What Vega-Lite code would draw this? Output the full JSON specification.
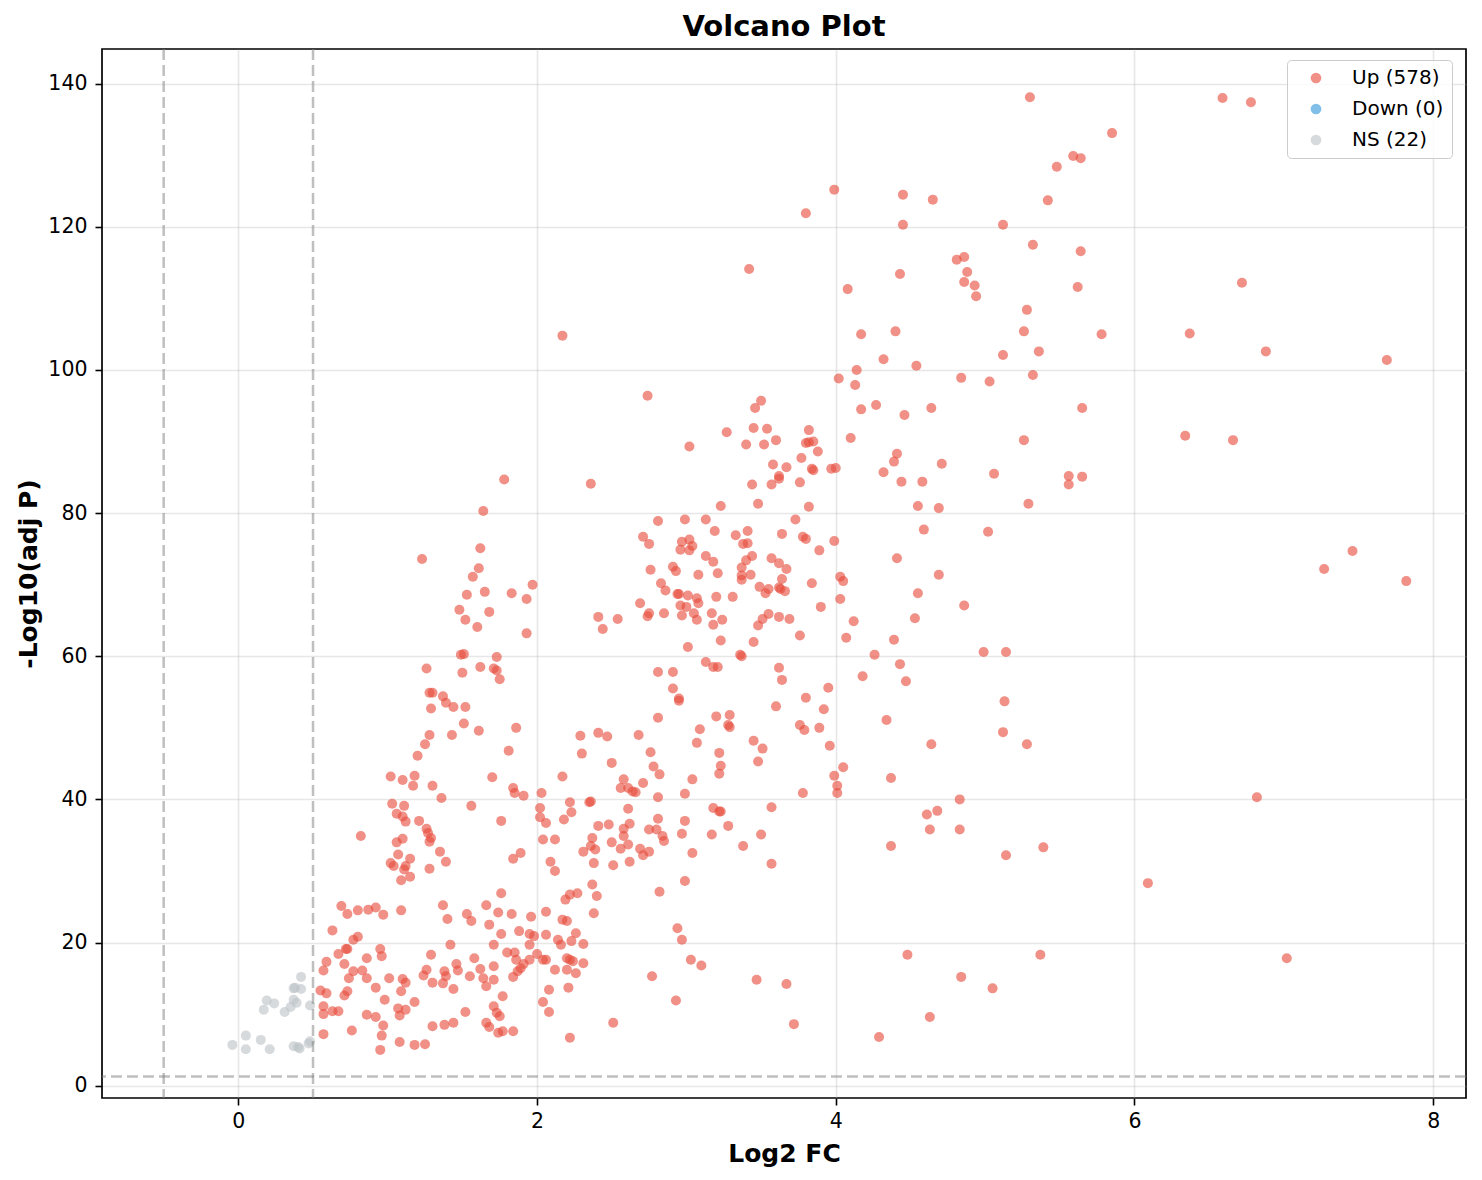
{
  "$schema": "https://vega.github.io/schema/vega-lite/v6.json",
  "width": 1364,
  "height": 1049,
  "autosize": {"type": "none"},
  "padding": {"left": 102, "top": 49, "right": 16, "bottom": 82},
  "background": "white",
  "view": {"stroke": "black", "strokeWidth": 1.7},
  "title": {
    "text": "Volcano Plot",
    "font": "DejaVu Sans",
    "fontSize": 29,
    "fontWeight": "bold",
    "color": "black",
    "anchor": "middle",
    "offset": 6
  },
  "config": {
    "font": "DejaVu Sans",
    "axis": {
      "labelFont": "DejaVu Sans",
      "labelFontSize": 20.5,
      "labelColor": "black",
      "tickColor": "black",
      "tickSize": 7,
      "tickWidth": 1.6,
      "domain": false,
      "grid": true,
      "gridColor": "#b0b0b0",
      "gridOpacity": 0.3,
      "gridWidth": 1.6,
      "titleFont": "DejaVu Sans",
      "titleFontSize": 25,
      "titleFontWeight": "bold",
      "titleColor": "black"
    }
  },
  "datasets": {
    "genes": [
      {"fc": -0.04, "p": 5.7, "g": "NS (22)"}, {"fc": 0.05, "p": 7.0, "g": "NS (22)"}, {"fc": 0.05, "p": 5.1, "g": "NS (22)"},
      {"fc": 0.15, "p": 6.4, "g": "NS (22)"}, {"fc": 0.21, "p": 5.1, "g": "NS (22)"}, {"fc": 0.37, "p": 5.5, "g": "NS (22)"},
      {"fc": 0.41, "p": 5.2, "g": "NS (22)"}, {"fc": 0.40, "p": 5.4, "g": "NS (22)"}, {"fc": 0.48, "p": 6.2, "g": "NS (22)"},
      {"fc": 0.47, "p": 5.9, "g": "NS (22)"}, {"fc": 0.17, "p": 10.6, "g": "NS (22)"}, {"fc": 0.19, "p": 11.9, "g": "NS (22)"},
      {"fc": 0.24, "p": 11.5, "g": "NS (22)"}, {"fc": 0.31, "p": 10.3, "g": "NS (22)"}, {"fc": 0.35, "p": 11.0, "g": "NS (22)"},
      {"fc": 0.37, "p": 12.0, "g": "NS (22)"}, {"fc": 0.39, "p": 11.6, "g": "NS (22)"}, {"fc": 0.48, "p": 11.2, "g": "NS (22)"},
      {"fc": 0.37, "p": 13.6, "g": "NS (22)"}, {"fc": 0.38, "p": 13.7, "g": "NS (22)"}, {"fc": 0.42, "p": 13.5, "g": "NS (22)"},
      {"fc": 0.42, "p": 15.2, "g": "NS (22)"},
      {"fc": 1.02, "p": 43.2, "g": "Up (578)"}, {"fc": 1.10, "p": 42.7, "g": "Up (578)"}, {"fc": 1.18, "p": 43.3, "g": "Up (578)"},
      {"fc": 1.17, "p": 41.9, "g": "Up (578)"}, {"fc": 1.30, "p": 41.9, "g": "Up (578)"}, {"fc": 1.36, "p": 40.2, "g": "Up (578)"},
      {"fc": 1.70, "p": 43.1, "g": "Up (578)"}, {"fc": 1.84, "p": 41.6, "g": "Up (578)"}, {"fc": 1.85, "p": 40.9, "g": "Up (578)"},
      {"fc": 1.91, "p": 40.5, "g": "Up (578)"}, {"fc": 2.03, "p": 40.9, "g": "Up (578)"}, {"fc": 2.17, "p": 43.2, "g": "Up (578)"},
      {"fc": 2.22, "p": 39.6, "g": "Up (578)"}, {"fc": 2.35, "p": 39.6, "g": "Up (578)"}, {"fc": 2.36, "p": 39.7, "g": "Up (578)"},
      {"fc": 1.03, "p": 39.4, "g": "Up (578)"}, {"fc": 1.11, "p": 39.1, "g": "Up (578)"}, {"fc": 1.06, "p": 38.0, "g": "Up (578)"},
      {"fc": 1.10, "p": 37.6, "g": "Up (578)"}, {"fc": 1.12, "p": 36.9, "g": "Up (578)"}, {"fc": 1.21, "p": 37.0, "g": "Up (578)"},
      {"fc": 1.56, "p": 39.1, "g": "Up (578)"}, {"fc": 1.76, "p": 37.0, "g": "Up (578)"}, {"fc": 2.02, "p": 38.8, "g": "Up (578)"},
      {"fc": 2.02, "p": 37.5, "g": "Up (578)"}, {"fc": 2.06, "p": 36.7, "g": "Up (578)"}, {"fc": 2.18, "p": 37.2, "g": "Up (578)"},
      {"fc": 2.23, "p": 38.2, "g": "Up (578)"}, {"fc": 2.41, "p": 36.3, "g": "Up (578)"}, {"fc": 0.82, "p": 34.9, "g": "Up (578)"},
      {"fc": 1.26, "p": 35.9, "g": "Up (578)"}, {"fc": 1.27, "p": 35.3, "g": "Up (578)"}, {"fc": 1.29, "p": 34.6, "g": "Up (578)"},
      {"fc": 1.28, "p": 34.1, "g": "Up (578)"}, {"fc": 1.10, "p": 34.5, "g": "Up (578)"}, {"fc": 1.06, "p": 34.0, "g": "Up (578)"},
      {"fc": 1.07, "p": 32.3, "g": "Up (578)"}, {"fc": 1.02, "p": 31.1, "g": "Up (578)"}, {"fc": 1.04, "p": 30.7, "g": "Up (578)"},
      {"fc": 1.12, "p": 30.7, "g": "Up (578)"}, {"fc": 1.15, "p": 31.7, "g": "Up (578)"}, {"fc": 1.11, "p": 30.2, "g": "Up (578)"},
      {"fc": 1.09, "p": 28.7, "g": "Up (578)"}, {"fc": 1.15, "p": 29.2, "g": "Up (578)"}, {"fc": 1.28, "p": 30.3, "g": "Up (578)"},
      {"fc": 1.35, "p": 32.7, "g": "Up (578)"}, {"fc": 1.39, "p": 31.3, "g": "Up (578)"}, {"fc": 1.84, "p": 31.7, "g": "Up (578)"},
      {"fc": 1.89, "p": 32.5, "g": "Up (578)"}, {"fc": 2.04, "p": 34.4, "g": "Up (578)"}, {"fc": 2.12, "p": 34.4, "g": "Up (578)"},
      {"fc": 2.09, "p": 31.3, "g": "Up (578)"}, {"fc": 2.12, "p": 30.0, "g": "Up (578)"}, {"fc": 2.31, "p": 32.7, "g": "Up (578)"},
      {"fc": 2.37, "p": 34.6, "g": "Up (578)"}, {"fc": 2.36, "p": 33.5, "g": "Up (578)"}, {"fc": 2.39, "p": 33.0, "g": "Up (578)"},
      {"fc": 2.38, "p": 31.1, "g": "Up (578)"}, {"fc": 2.37, "p": 28.1, "g": "Up (578)"}, {"fc": 2.40, "p": 26.5, "g": "Up (578)"},
      {"fc": 2.19, "p": 26.0, "g": "Up (578)"}, {"fc": 2.22, "p": 26.7, "g": "Up (578)"}, {"fc": 2.27, "p": 26.9, "g": "Up (578)"},
      {"fc": 2.38, "p": 24.1, "g": "Up (578)"}, {"fc": 1.76, "p": 26.9, "g": "Up (578)"}, {"fc": 0.69, "p": 25.1, "g": "Up (578)"},
      {"fc": 0.73, "p": 24.0, "g": "Up (578)"}, {"fc": 0.80, "p": 24.5, "g": "Up (578)"}, {"fc": 0.87, "p": 24.6, "g": "Up (578)"},
      {"fc": 0.92, "p": 24.9, "g": "Up (578)"}, {"fc": 0.97, "p": 23.9, "g": "Up (578)"}, {"fc": 1.09, "p": 24.5, "g": "Up (578)"},
      {"fc": 1.37, "p": 25.2, "g": "Up (578)"}, {"fc": 1.40, "p": 23.3, "g": "Up (578)"}, {"fc": 1.53, "p": 24.0, "g": "Up (578)"},
      {"fc": 1.56, "p": 23.0, "g": "Up (578)"}, {"fc": 1.66, "p": 25.2, "g": "Up (578)"}, {"fc": 1.74, "p": 24.2, "g": "Up (578)"},
      {"fc": 1.83, "p": 24.0, "g": "Up (578)"}, {"fc": 1.96, "p": 23.6, "g": "Up (578)"}, {"fc": 2.06, "p": 24.3, "g": "Up (578)"},
      {"fc": 2.17, "p": 23.2, "g": "Up (578)"}, {"fc": 2.20, "p": 23.0, "g": "Up (578)"}, {"fc": 1.68, "p": 22.5, "g": "Up (578)"},
      {"fc": 0.63, "p": 21.7, "g": "Up (578)"}, {"fc": 0.77, "p": 20.4, "g": "Up (578)"}, {"fc": 0.80, "p": 20.8, "g": "Up (578)"},
      {"fc": 0.72, "p": 19.1, "g": "Up (578)"}, {"fc": 0.73, "p": 19.1, "g": "Up (578)"}, {"fc": 0.67, "p": 18.4, "g": "Up (578)"},
      {"fc": 0.95, "p": 19.1, "g": "Up (578)"}, {"fc": 0.96, "p": 18.1, "g": "Up (578)"}, {"fc": 1.29, "p": 18.3, "g": "Up (578)"},
      {"fc": 1.42, "p": 19.7, "g": "Up (578)"}, {"fc": 1.76, "p": 21.2, "g": "Up (578)"}, {"fc": 1.71, "p": 19.7, "g": "Up (578)"},
      {"fc": 1.88, "p": 21.6, "g": "Up (578)"}, {"fc": 1.95, "p": 21.2, "g": "Up (578)"}, {"fc": 1.98, "p": 20.9, "g": "Up (578)"},
      {"fc": 2.06, "p": 21.1, "g": "Up (578)"}, {"fc": 2.14, "p": 20.4, "g": "Up (578)"}, {"fc": 2.16, "p": 19.7, "g": "Up (578)"},
      {"fc": 2.23, "p": 20.2, "g": "Up (578)"}, {"fc": 2.31, "p": 19.8, "g": "Up (578)"}, {"fc": 2.26, "p": 21.3, "g": "Up (578)"},
      {"fc": 1.95, "p": 19.7, "g": "Up (578)"}, {"fc": 0.59, "p": 17.3, "g": "Up (578)"}, {"fc": 0.57, "p": 16.1, "g": "Up (578)"},
      {"fc": 0.71, "p": 17.0, "g": "Up (578)"}, {"fc": 0.77, "p": 16.0, "g": "Up (578)"}, {"fc": 0.83, "p": 16.1, "g": "Up (578)"},
      {"fc": 0.86, "p": 17.8, "g": "Up (578)"}, {"fc": 0.74, "p": 15.0, "g": "Up (578)"}, {"fc": 0.86, "p": 15.0, "g": "Up (578)"},
      {"fc": 1.01, "p": 15.0, "g": "Up (578)"}, {"fc": 1.10, "p": 14.9, "g": "Up (578)"}, {"fc": 1.12, "p": 14.4, "g": "Up (578)"},
      {"fc": 1.24, "p": 15.4, "g": "Up (578)"}, {"fc": 1.26, "p": 16.2, "g": "Up (578)"}, {"fc": 1.30, "p": 14.4, "g": "Up (578)"},
      {"fc": 1.37, "p": 14.3, "g": "Up (578)"}, {"fc": 1.38, "p": 16.0, "g": "Up (578)"}, {"fc": 1.39, "p": 15.3, "g": "Up (578)"},
      {"fc": 1.46, "p": 17.0, "g": "Up (578)"}, {"fc": 1.47, "p": 16.1, "g": "Up (578)"}, {"fc": 1.44, "p": 13.5, "g": "Up (578)"},
      {"fc": 1.55, "p": 15.3, "g": "Up (578)"}, {"fc": 1.58, "p": 17.8, "g": "Up (578)"}, {"fc": 1.62, "p": 16.3, "g": "Up (578)"},
      {"fc": 1.64, "p": 15.0, "g": "Up (578)"}, {"fc": 1.66, "p": 13.9, "g": "Up (578)"}, {"fc": 1.71, "p": 16.7, "g": "Up (578)"},
      {"fc": 1.71, "p": 14.8, "g": "Up (578)"}, {"fc": 1.80, "p": 18.6, "g": "Up (578)"}, {"fc": 1.85, "p": 18.6, "g": "Up (578)"},
      {"fc": 1.86, "p": 17.6, "g": "Up (578)"}, {"fc": 1.87, "p": 16.0, "g": "Up (578)"}, {"fc": 1.89, "p": 16.4, "g": "Up (578)"},
      {"fc": 1.84, "p": 15.2, "g": "Up (578)"}, {"fc": 1.91, "p": 17.0, "g": "Up (578)"}, {"fc": 1.95, "p": 17.6, "g": "Up (578)"},
      {"fc": 2.00, "p": 18.4, "g": "Up (578)"}, {"fc": 2.04, "p": 17.6, "g": "Up (578)"}, {"fc": 2.06, "p": 17.6, "g": "Up (578)"},
      {"fc": 2.12, "p": 16.2, "g": "Up (578)"}, {"fc": 2.20, "p": 17.8, "g": "Up (578)"}, {"fc": 2.22, "p": 17.6, "g": "Up (578)"},
      {"fc": 2.24, "p": 17.4, "g": "Up (578)"}, {"fc": 2.20, "p": 16.2, "g": "Up (578)"}, {"fc": 2.26, "p": 15.7, "g": "Up (578)"},
      {"fc": 2.31, "p": 17.1, "g": "Up (578)"}, {"fc": 2.21, "p": 13.7, "g": "Up (578)"}, {"fc": 2.08, "p": 13.4, "g": "Up (578)"},
      {"fc": 0.55, "p": 13.3, "g": "Up (578)"}, {"fc": 0.59, "p": 12.9, "g": "Up (578)"}, {"fc": 0.71, "p": 12.6, "g": "Up (578)"},
      {"fc": 0.73, "p": 13.2, "g": "Up (578)"}, {"fc": 0.92, "p": 13.7, "g": "Up (578)"}, {"fc": 0.98, "p": 12.0, "g": "Up (578)"},
      {"fc": 1.09, "p": 13.2, "g": "Up (578)"}, {"fc": 1.18, "p": 11.7, "g": "Up (578)"}, {"fc": 0.57, "p": 11.1, "g": "Up (578)"},
      {"fc": 0.57, "p": 10.0, "g": "Up (578)"}, {"fc": 0.63, "p": 10.4, "g": "Up (578)"}, {"fc": 0.67, "p": 10.4, "g": "Up (578)"},
      {"fc": 0.86, "p": 9.9, "g": "Up (578)"}, {"fc": 0.92, "p": 9.6, "g": "Up (578)"}, {"fc": 1.07, "p": 10.8, "g": "Up (578)"},
      {"fc": 1.08, "p": 9.8, "g": "Up (578)"}, {"fc": 1.12, "p": 10.6, "g": "Up (578)"}, {"fc": 1.52, "p": 10.3, "g": "Up (578)"},
      {"fc": 1.71, "p": 11.1, "g": "Up (578)"}, {"fc": 1.73, "p": 10.2, "g": "Up (578)"}, {"fc": 1.75, "p": 9.7, "g": "Up (578)"},
      {"fc": 1.77, "p": 12.5, "g": "Up (578)"}, {"fc": 2.04, "p": 11.7, "g": "Up (578)"}, {"fc": 2.08, "p": 10.3, "g": "Up (578)"},
      {"fc": 0.57, "p": 7.2, "g": "Up (578)"}, {"fc": 0.76, "p": 7.7, "g": "Up (578)"}, {"fc": 0.97, "p": 8.4, "g": "Up (578)"},
      {"fc": 0.96, "p": 7.0, "g": "Up (578)"}, {"fc": 0.95, "p": 5.0, "g": "Up (578)"}, {"fc": 1.08, "p": 6.1, "g": "Up (578)"},
      {"fc": 1.18, "p": 5.7, "g": "Up (578)"}, {"fc": 1.25, "p": 5.8, "g": "Up (578)"}, {"fc": 1.30, "p": 8.3, "g": "Up (578)"},
      {"fc": 1.38, "p": 8.5, "g": "Up (578)"}, {"fc": 1.44, "p": 8.8, "g": "Up (578)"}, {"fc": 1.66, "p": 8.8, "g": "Up (578)"},
      {"fc": 1.68, "p": 8.2, "g": "Up (578)"}, {"fc": 1.74, "p": 7.4, "g": "Up (578)"}, {"fc": 1.77, "p": 7.6, "g": "Up (578)"},
      {"fc": 1.84, "p": 7.6, "g": "Up (578)"}, {"fc": 2.22, "p": 6.7, "g": "Up (578)"},
      {"fc": 2.50, "p": 45.1, "g": "Up (578)"}, {"fc": 2.78, "p": 44.6, "g": "Up (578)"}, {"fc": 2.82, "p": 43.5, "g": "Up (578)"},
      {"fc": 3.23, "p": 44.7, "g": "Up (578)"}, {"fc": 3.22, "p": 43.6, "g": "Up (578)"}, {"fc": 3.48, "p": 45.3, "g": "Up (578)"},
      {"fc": 3.99, "p": 43.3, "g": "Up (578)"}, {"fc": 4.05, "p": 44.5, "g": "Up (578)"}, {"fc": 4.01, "p": 41.9, "g": "Up (578)"},
      {"fc": 4.01, "p": 40.9, "g": "Up (578)"}, {"fc": 4.37, "p": 43.0, "g": "Up (578)"}, {"fc": 2.58, "p": 42.8, "g": "Up (578)"},
      {"fc": 2.56, "p": 41.6, "g": "Up (578)"}, {"fc": 2.61, "p": 41.6, "g": "Up (578)"}, {"fc": 2.64, "p": 41.1, "g": "Up (578)"},
      {"fc": 2.66, "p": 41.0, "g": "Up (578)"}, {"fc": 2.71, "p": 42.3, "g": "Up (578)"}, {"fc": 3.04, "p": 42.8, "g": "Up (578)"},
      {"fc": 2.81, "p": 40.3, "g": "Up (578)"}, {"fc": 2.99, "p": 40.8, "g": "Up (578)"}, {"fc": 3.78, "p": 40.9, "g": "Up (578)"},
      {"fc": 2.61, "p": 38.7, "g": "Up (578)"}, {"fc": 3.18, "p": 38.8, "g": "Up (578)"}, {"fc": 3.22, "p": 38.3, "g": "Up (578)"},
      {"fc": 3.23, "p": 38.3, "g": "Up (578)"}, {"fc": 3.57, "p": 38.9, "g": "Up (578)"}, {"fc": 4.83, "p": 40.0, "g": "Up (578)"},
      {"fc": 4.61, "p": 37.9, "g": "Up (578)"}, {"fc": 4.68, "p": 38.4, "g": "Up (578)"}, {"fc": 2.48, "p": 36.5, "g": "Up (578)"},
      {"fc": 2.62, "p": 36.6, "g": "Up (578)"}, {"fc": 2.58, "p": 35.9, "g": "Up (578)"}, {"fc": 2.58, "p": 34.9, "g": "Up (578)"},
      {"fc": 2.81, "p": 37.3, "g": "Up (578)"}, {"fc": 2.75, "p": 35.8, "g": "Up (578)"}, {"fc": 2.80, "p": 35.8, "g": "Up (578)"},
      {"fc": 2.84, "p": 34.9, "g": "Up (578)"}, {"fc": 2.85, "p": 34.2, "g": "Up (578)"}, {"fc": 2.99, "p": 37.0, "g": "Up (578)"},
      {"fc": 2.97, "p": 35.2, "g": "Up (578)"}, {"fc": 3.28, "p": 36.3, "g": "Up (578)"}, {"fc": 3.17, "p": 35.1, "g": "Up (578)"},
      {"fc": 3.50, "p": 35.1, "g": "Up (578)"}, {"fc": 4.63, "p": 35.8, "g": "Up (578)"}, {"fc": 4.83, "p": 35.8, "g": "Up (578)"},
      {"fc": 2.50, "p": 34.0, "g": "Up (578)"}, {"fc": 2.61, "p": 33.7, "g": "Up (578)"}, {"fc": 2.56, "p": 33.1, "g": "Up (578)"},
      {"fc": 2.69, "p": 33.1, "g": "Up (578)"}, {"fc": 2.71, "p": 32.2, "g": "Up (578)"}, {"fc": 2.75, "p": 32.7, "g": "Up (578)"},
      {"fc": 3.04, "p": 32.5, "g": "Up (578)"}, {"fc": 3.38, "p": 33.5, "g": "Up (578)"}, {"fc": 4.37, "p": 33.5, "g": "Up (578)"},
      {"fc": 2.51, "p": 30.8, "g": "Up (578)"}, {"fc": 2.62, "p": 31.3, "g": "Up (578)"}, {"fc": 3.57, "p": 31.0, "g": "Up (578)"},
      {"fc": 2.99, "p": 28.6, "g": "Up (578)"}, {"fc": 2.82, "p": 27.1, "g": "Up (578)"}, {"fc": 2.94, "p": 22.0, "g": "Up (578)"},
      {"fc": 2.97, "p": 20.4, "g": "Up (578)"}, {"fc": 3.03, "p": 17.6, "g": "Up (578)"}, {"fc": 3.10, "p": 16.8, "g": "Up (578)"},
      {"fc": 2.77, "p": 15.3, "g": "Up (578)"}, {"fc": 3.47, "p": 14.8, "g": "Up (578)"}, {"fc": 3.67, "p": 14.2, "g": "Up (578)"},
      {"fc": 4.48, "p": 18.3, "g": "Up (578)"}, {"fc": 4.84, "p": 15.2, "g": "Up (578)"}, {"fc": 5.05, "p": 13.6, "g": "Up (578)"},
      {"fc": 2.93, "p": 11.9, "g": "Up (578)"}, {"fc": 2.51, "p": 8.8, "g": "Up (578)"}, {"fc": 3.72, "p": 8.6, "g": "Up (578)"},
      {"fc": 4.63, "p": 9.6, "g": "Up (578)"}, {"fc": 4.29, "p": 6.8, "g": "Up (578)"},
      {"fc": 1.78, "p": 84.7, "g": "Up (578)"}, {"fc": 2.36, "p": 84.1, "g": "Up (578)"}, {"fc": 1.64, "p": 80.3, "g": "Up (578)"},
      {"fc": 1.23, "p": 73.6, "g": "Up (578)"}, {"fc": 1.62, "p": 75.1, "g": "Up (578)"}, {"fc": 1.61, "p": 72.3, "g": "Up (578)"},
      {"fc": 1.57, "p": 71.1, "g": "Up (578)"}, {"fc": 1.53, "p": 68.6, "g": "Up (578)"}, {"fc": 1.65, "p": 69.0, "g": "Up (578)"},
      {"fc": 1.83, "p": 68.8, "g": "Up (578)"}, {"fc": 1.97, "p": 70.0, "g": "Up (578)"}, {"fc": 1.93, "p": 68.0, "g": "Up (578)"},
      {"fc": 1.48, "p": 66.5, "g": "Up (578)"}, {"fc": 1.68, "p": 66.2, "g": "Up (578)"}, {"fc": 1.52, "p": 65.1, "g": "Up (578)"},
      {"fc": 1.60, "p": 64.1, "g": "Up (578)"}, {"fc": 1.93, "p": 63.2, "g": "Up (578)"}, {"fc": 1.49, "p": 60.2, "g": "Up (578)"},
      {"fc": 1.51, "p": 60.3, "g": "Up (578)"}, {"fc": 1.73, "p": 59.9, "g": "Up (578)"}, {"fc": 1.62, "p": 58.5, "g": "Up (578)"},
      {"fc": 1.71, "p": 58.3, "g": "Up (578)"}, {"fc": 1.73, "p": 58.0, "g": "Up (578)"}, {"fc": 1.75, "p": 56.8, "g": "Up (578)"},
      {"fc": 1.26, "p": 58.3, "g": "Up (578)"}, {"fc": 1.50, "p": 57.7, "g": "Up (578)"}, {"fc": 1.28, "p": 54.9, "g": "Up (578)"},
      {"fc": 1.30, "p": 54.9, "g": "Up (578)"}, {"fc": 1.37, "p": 54.4, "g": "Up (578)"}, {"fc": 1.39, "p": 53.5, "g": "Up (578)"},
      {"fc": 1.44, "p": 52.9, "g": "Up (578)"}, {"fc": 1.29, "p": 52.7, "g": "Up (578)"}, {"fc": 1.52, "p": 52.9, "g": "Up (578)"},
      {"fc": 1.51, "p": 50.6, "g": "Up (578)"}, {"fc": 1.61, "p": 49.6, "g": "Up (578)"}, {"fc": 1.86, "p": 50.0, "g": "Up (578)"},
      {"fc": 1.28, "p": 49.0, "g": "Up (578)"}, {"fc": 1.43, "p": 49.0, "g": "Up (578)"}, {"fc": 1.25, "p": 47.7, "g": "Up (578)"},
      {"fc": 1.20, "p": 46.1, "g": "Up (578)"}, {"fc": 1.81, "p": 46.8, "g": "Up (578)"},
      {"fc": 2.81, "p": 78.9, "g": "Up (578)"}, {"fc": 2.99, "p": 79.1, "g": "Up (578)"}, {"fc": 2.71, "p": 76.7, "g": "Up (578)"},
      {"fc": 2.75, "p": 75.7, "g": "Up (578)"}, {"fc": 2.97, "p": 76.0, "g": "Up (578)"}, {"fc": 3.02, "p": 76.3, "g": "Up (578)"},
      {"fc": 3.04, "p": 75.4, "g": "Up (578)"}, {"fc": 2.96, "p": 74.9, "g": "Up (578)"}, {"fc": 3.02, "p": 74.8, "g": "Up (578)"},
      {"fc": 2.76, "p": 72.1, "g": "Up (578)"}, {"fc": 2.91, "p": 72.5, "g": "Up (578)"}, {"fc": 2.93, "p": 71.9, "g": "Up (578)"},
      {"fc": 3.08, "p": 71.4, "g": "Up (578)"}, {"fc": 2.83, "p": 70.2, "g": "Up (578)"}, {"fc": 2.86, "p": 69.2, "g": "Up (578)"},
      {"fc": 2.94, "p": 68.7, "g": "Up (578)"}, {"fc": 2.95, "p": 68.7, "g": "Up (578)"}, {"fc": 3.01, "p": 68.5, "g": "Up (578)"},
      {"fc": 3.07, "p": 68.1, "g": "Up (578)"}, {"fc": 3.08, "p": 67.4, "g": "Up (578)"}, {"fc": 2.69, "p": 67.4, "g": "Up (578)"},
      {"fc": 2.96, "p": 67.1, "g": "Up (578)"}, {"fc": 3.00, "p": 66.9, "g": "Up (578)"}, {"fc": 2.75, "p": 66.0, "g": "Up (578)"},
      {"fc": 2.74, "p": 65.6, "g": "Up (578)"}, {"fc": 2.85, "p": 66.0, "g": "Up (578)"}, {"fc": 2.97, "p": 65.7, "g": "Up (578)"},
      {"fc": 3.05, "p": 66.0, "g": "Up (578)"}, {"fc": 3.07, "p": 65.1, "g": "Up (578)"}, {"fc": 2.41, "p": 65.5, "g": "Up (578)"},
      {"fc": 2.54, "p": 65.2, "g": "Up (578)"}, {"fc": 2.44, "p": 63.8, "g": "Up (578)"}, {"fc": 3.01, "p": 61.3, "g": "Up (578)"},
      {"fc": 2.81, "p": 57.8, "g": "Up (578)"}, {"fc": 2.91, "p": 57.8, "g": "Up (578)"}, {"fc": 2.91, "p": 55.5, "g": "Up (578)"},
      {"fc": 2.95, "p": 54.1, "g": "Up (578)"}, {"fc": 2.95, "p": 53.8, "g": "Up (578)"}, {"fc": 2.81, "p": 51.4, "g": "Up (578)"},
      {"fc": 3.09, "p": 49.8, "g": "Up (578)"}, {"fc": 2.29, "p": 48.9, "g": "Up (578)"}, {"fc": 2.41, "p": 49.3, "g": "Up (578)"},
      {"fc": 2.47, "p": 48.8, "g": "Up (578)"}, {"fc": 2.68, "p": 49.0, "g": "Up (578)"}, {"fc": 2.76, "p": 46.6, "g": "Up (578)"},
      {"fc": 2.30, "p": 46.4, "g": "Up (578)"}, {"fc": 3.07, "p": 47.9, "g": "Up (578)"},
      {"fc": 4.41, "p": 88.3, "g": "Up (578)"}, {"fc": 3.88, "p": 88.6, "g": "Up (578)"}, {"fc": 3.77, "p": 87.7, "g": "Up (578)"},
      {"fc": 3.58, "p": 86.8, "g": "Up (578)"}, {"fc": 3.67, "p": 86.4, "g": "Up (578)"}, {"fc": 3.84, "p": 86.2, "g": "Up (578)"},
      {"fc": 3.85, "p": 86.0, "g": "Up (578)"}, {"fc": 3.97, "p": 86.2, "g": "Up (578)"}, {"fc": 4.00, "p": 86.3, "g": "Up (578)"},
      {"fc": 4.39, "p": 87.2, "g": "Up (578)"}, {"fc": 4.71, "p": 86.9, "g": "Up (578)"}, {"fc": 4.32, "p": 85.7, "g": "Up (578)"},
      {"fc": 3.62, "p": 85.2, "g": "Up (578)"}, {"fc": 3.62, "p": 84.8, "g": "Up (578)"}, {"fc": 3.44, "p": 84.0, "g": "Up (578)"},
      {"fc": 3.57, "p": 84.0, "g": "Up (578)"}, {"fc": 3.76, "p": 84.3, "g": "Up (578)"}, {"fc": 4.44, "p": 84.4, "g": "Up (578)"},
      {"fc": 4.58, "p": 84.4, "g": "Up (578)"}, {"fc": 5.06, "p": 85.5, "g": "Up (578)"}, {"fc": 5.56, "p": 85.2, "g": "Up (578)"},
      {"fc": 5.65, "p": 85.1, "g": "Up (578)"}, {"fc": 5.56, "p": 84.0, "g": "Up (578)"}, {"fc": 3.23, "p": 81.0, "g": "Up (578)"},
      {"fc": 3.48, "p": 81.3, "g": "Up (578)"}, {"fc": 3.82, "p": 80.9, "g": "Up (578)"}, {"fc": 4.55, "p": 81.0, "g": "Up (578)"},
      {"fc": 4.69, "p": 80.7, "g": "Up (578)"}, {"fc": 5.29, "p": 81.3, "g": "Up (578)"}, {"fc": 3.13, "p": 79.1, "g": "Up (578)"},
      {"fc": 3.73, "p": 79.1, "g": "Up (578)"}, {"fc": 3.19, "p": 77.5, "g": "Up (578)"}, {"fc": 3.33, "p": 76.9, "g": "Up (578)"},
      {"fc": 3.41, "p": 77.5, "g": "Up (578)"}, {"fc": 3.38, "p": 75.7, "g": "Up (578)"}, {"fc": 3.41, "p": 75.8, "g": "Up (578)"},
      {"fc": 3.64, "p": 77.1, "g": "Up (578)"}, {"fc": 3.78, "p": 76.7, "g": "Up (578)"}, {"fc": 3.80, "p": 76.4, "g": "Up (578)"},
      {"fc": 3.99, "p": 76.1, "g": "Up (578)"}, {"fc": 4.59, "p": 77.7, "g": "Up (578)"}, {"fc": 5.02, "p": 77.4, "g": "Up (578)"},
      {"fc": 3.89, "p": 74.8, "g": "Up (578)"}, {"fc": 3.13, "p": 74.0, "g": "Up (578)"}, {"fc": 3.18, "p": 73.2, "g": "Up (578)"},
      {"fc": 3.21, "p": 71.6, "g": "Up (578)"}, {"fc": 3.44, "p": 74.0, "g": "Up (578)"}, {"fc": 3.40, "p": 73.4, "g": "Up (578)"},
      {"fc": 3.37, "p": 72.4, "g": "Up (578)"}, {"fc": 3.37, "p": 71.3, "g": "Up (578)"}, {"fc": 3.37, "p": 70.7, "g": "Up (578)"},
      {"fc": 3.43, "p": 71.4, "g": "Up (578)"}, {"fc": 3.57, "p": 73.7, "g": "Up (578)"}, {"fc": 3.62, "p": 73.0, "g": "Up (578)"},
      {"fc": 3.67, "p": 72.2, "g": "Up (578)"}, {"fc": 3.64, "p": 70.8, "g": "Up (578)"}, {"fc": 3.49, "p": 69.7, "g": "Up (578)"},
      {"fc": 3.55, "p": 69.4, "g": "Up (578)"}, {"fc": 3.53, "p": 68.8, "g": "Up (578)"}, {"fc": 3.62, "p": 69.6, "g": "Up (578)"},
      {"fc": 3.63, "p": 69.4, "g": "Up (578)"}, {"fc": 3.66, "p": 69.1, "g": "Up (578)"}, {"fc": 3.84, "p": 70.2, "g": "Up (578)"},
      {"fc": 4.03, "p": 71.1, "g": "Up (578)"}, {"fc": 4.05, "p": 70.5, "g": "Up (578)"}, {"fc": 4.41, "p": 73.7, "g": "Up (578)"},
      {"fc": 4.69, "p": 71.4, "g": "Up (578)"}, {"fc": 3.20, "p": 68.3, "g": "Up (578)"}, {"fc": 3.31, "p": 68.3, "g": "Up (578)"},
      {"fc": 4.03, "p": 68.0, "g": "Up (578)"}, {"fc": 4.55, "p": 68.8, "g": "Up (578)"}, {"fc": 4.86, "p": 67.1, "g": "Up (578)"},
      {"fc": 3.90, "p": 66.9, "g": "Up (578)"}, {"fc": 3.17, "p": 66.0, "g": "Up (578)"}, {"fc": 3.18, "p": 64.4, "g": "Up (578)"},
      {"fc": 3.24, "p": 65.1, "g": "Up (578)"}, {"fc": 3.48, "p": 64.3, "g": "Up (578)"}, {"fc": 3.51, "p": 65.2, "g": "Up (578)"},
      {"fc": 3.55, "p": 65.9, "g": "Up (578)"}, {"fc": 3.62, "p": 65.5, "g": "Up (578)"}, {"fc": 3.69, "p": 65.2, "g": "Up (578)"},
      {"fc": 4.12, "p": 64.9, "g": "Up (578)"}, {"fc": 4.53, "p": 65.3, "g": "Up (578)"}, {"fc": 3.23, "p": 62.2, "g": "Up (578)"},
      {"fc": 3.45, "p": 62.0, "g": "Up (578)"}, {"fc": 3.76, "p": 62.9, "g": "Up (578)"}, {"fc": 4.07, "p": 62.6, "g": "Up (578)"},
      {"fc": 4.39, "p": 62.3, "g": "Up (578)"}, {"fc": 3.36, "p": 60.2, "g": "Up (578)"}, {"fc": 3.37, "p": 60.0, "g": "Up (578)"},
      {"fc": 3.13, "p": 59.2, "g": "Up (578)"}, {"fc": 3.18, "p": 58.5, "g": "Up (578)"}, {"fc": 3.21, "p": 58.5, "g": "Up (578)"},
      {"fc": 3.62, "p": 58.4, "g": "Up (578)"}, {"fc": 3.64, "p": 56.7, "g": "Up (578)"}, {"fc": 4.26, "p": 60.2, "g": "Up (578)"},
      {"fc": 4.43, "p": 58.9, "g": "Up (578)"}, {"fc": 4.99, "p": 60.6, "g": "Up (578)"}, {"fc": 5.14, "p": 60.6, "g": "Up (578)"},
      {"fc": 4.18, "p": 57.2, "g": "Up (578)"}, {"fc": 4.47, "p": 56.5, "g": "Up (578)"}, {"fc": 3.95, "p": 55.6, "g": "Up (578)"},
      {"fc": 3.80, "p": 54.2, "g": "Up (578)"}, {"fc": 3.60, "p": 53.0, "g": "Up (578)"}, {"fc": 3.92, "p": 52.6, "g": "Up (578)"},
      {"fc": 5.13, "p": 53.7, "g": "Up (578)"}, {"fc": 3.20, "p": 51.6, "g": "Up (578)"}, {"fc": 3.29, "p": 51.8, "g": "Up (578)"},
      {"fc": 3.28, "p": 50.4, "g": "Up (578)"}, {"fc": 3.29, "p": 50.1, "g": "Up (578)"}, {"fc": 3.76, "p": 50.4, "g": "Up (578)"},
      {"fc": 3.79, "p": 49.7, "g": "Up (578)"}, {"fc": 3.89, "p": 50.0, "g": "Up (578)"}, {"fc": 4.34, "p": 51.1, "g": "Up (578)"},
      {"fc": 5.12, "p": 49.4, "g": "Up (578)"}, {"fc": 3.45, "p": 48.2, "g": "Up (578)"}, {"fc": 3.51, "p": 47.1, "g": "Up (578)"},
      {"fc": 3.22, "p": 46.5, "g": "Up (578)"}, {"fc": 3.96, "p": 47.5, "g": "Up (578)"}, {"fc": 4.64, "p": 47.7, "g": "Up (578)"},
      {"fc": 5.28, "p": 47.7, "g": "Up (578)"},
      {"fc": 3.99, "p": 125.2, "g": "Up (578)"}, {"fc": 3.80, "p": 121.9, "g": "Up (578)"}, {"fc": 4.45, "p": 124.5, "g": "Up (578)"},
      {"fc": 4.65, "p": 123.8, "g": "Up (578)"}, {"fc": 5.42, "p": 123.7, "g": "Up (578)"}, {"fc": 4.45, "p": 120.3, "g": "Up (578)"},
      {"fc": 5.12, "p": 120.3, "g": "Up (578)"}, {"fc": 5.32, "p": 117.5, "g": "Up (578)"}, {"fc": 3.42, "p": 114.1, "g": "Up (578)"},
      {"fc": 4.43, "p": 113.4, "g": "Up (578)"}, {"fc": 4.08, "p": 111.3, "g": "Up (578)"}, {"fc": 4.81, "p": 115.4, "g": "Up (578)"},
      {"fc": 4.86, "p": 115.8, "g": "Up (578)"}, {"fc": 4.88, "p": 113.7, "g": "Up (578)"}, {"fc": 4.86, "p": 112.3, "g": "Up (578)"},
      {"fc": 4.93, "p": 111.8, "g": "Up (578)"}, {"fc": 4.94, "p": 110.3, "g": "Up (578)"}, {"fc": 5.28, "p": 108.4, "g": "Up (578)"},
      {"fc": 5.26, "p": 105.4, "g": "Up (578)"}, {"fc": 4.17, "p": 105.0, "g": "Up (578)"}, {"fc": 4.40, "p": 105.4, "g": "Up (578)"},
      {"fc": 4.32, "p": 101.5, "g": "Up (578)"}, {"fc": 4.54, "p": 100.6, "g": "Up (578)"}, {"fc": 4.14, "p": 100.0, "g": "Up (578)"},
      {"fc": 4.02, "p": 98.8, "g": "Up (578)"}, {"fc": 4.13, "p": 97.9, "g": "Up (578)"}, {"fc": 5.12, "p": 102.1, "g": "Up (578)"},
      {"fc": 5.36, "p": 102.6, "g": "Up (578)"}, {"fc": 5.32, "p": 99.3, "g": "Up (578)"}, {"fc": 4.84, "p": 98.9, "g": "Up (578)"},
      {"fc": 5.03, "p": 98.4, "g": "Up (578)"}, {"fc": 2.74, "p": 96.4, "g": "Up (578)"}, {"fc": 3.50, "p": 95.7, "g": "Up (578)"},
      {"fc": 3.46, "p": 94.7, "g": "Up (578)"}, {"fc": 4.17, "p": 94.5, "g": "Up (578)"}, {"fc": 4.27, "p": 95.1, "g": "Up (578)"},
      {"fc": 4.46, "p": 93.7, "g": "Up (578)"}, {"fc": 4.64, "p": 94.7, "g": "Up (578)"}, {"fc": 3.27, "p": 91.3, "g": "Up (578)"},
      {"fc": 3.45, "p": 91.9, "g": "Up (578)"}, {"fc": 3.54, "p": 91.8, "g": "Up (578)"}, {"fc": 3.60, "p": 90.2, "g": "Up (578)"},
      {"fc": 3.82, "p": 91.6, "g": "Up (578)"}, {"fc": 4.10, "p": 90.5, "g": "Up (578)"}, {"fc": 5.26, "p": 90.2, "g": "Up (578)"},
      {"fc": 3.02, "p": 89.3, "g": "Up (578)"}, {"fc": 3.40, "p": 89.6, "g": "Up (578)"}, {"fc": 3.52, "p": 89.6, "g": "Up (578)"},
      {"fc": 3.80, "p": 89.8, "g": "Up (578)"}, {"fc": 3.82, "p": 89.9, "g": "Up (578)"}, {"fc": 3.85, "p": 90.0, "g": "Up (578)"},
      {"fc": 2.17, "p": 104.8, "g": "Up (578)"},
      {"fc": 5.30, "p": 138.1, "g": "Up (578)"}, {"fc": 6.59, "p": 138.0, "g": "Up (578)"}, {"fc": 6.78, "p": 137.4, "g": "Up (578)"},
      {"fc": 5.85, "p": 133.1, "g": "Up (578)"}, {"fc": 5.59, "p": 129.9, "g": "Up (578)"}, {"fc": 5.64, "p": 129.6, "g": "Up (578)"},
      {"fc": 5.48, "p": 128.4, "g": "Up (578)"}, {"fc": 5.64, "p": 116.6, "g": "Up (578)"}, {"fc": 5.62, "p": 111.6, "g": "Up (578)"},
      {"fc": 6.72, "p": 112.2, "g": "Up (578)"}, {"fc": 5.78, "p": 105.0, "g": "Up (578)"}, {"fc": 6.37, "p": 105.1, "g": "Up (578)"},
      {"fc": 6.88, "p": 102.6, "g": "Up (578)"}, {"fc": 7.69, "p": 101.4, "g": "Up (578)"}, {"fc": 5.65, "p": 94.7, "g": "Up (578)"},
      {"fc": 6.34, "p": 90.8, "g": "Up (578)"}, {"fc": 6.66, "p": 90.2, "g": "Up (578)"},
      {"fc": 7.27, "p": 72.2, "g": "Up (578)"}, {"fc": 7.46, "p": 74.7, "g": "Up (578)"}, {"fc": 7.82, "p": 70.5, "g": "Up (578)"},
      {"fc": 6.82, "p": 40.3, "g": "Up (578)"}, {"fc": 5.14, "p": 32.2, "g": "Up (578)"}, {"fc": 5.39, "p": 33.3, "g": "Up (578)"},
      {"fc": 6.09, "p": 28.3, "g": "Up (578)"}, {"fc": 5.37, "p": 18.3, "g": "Up (578)"}, {"fc": 7.02, "p": 17.8, "g": "Up (578)"}
    ],
    "fcCutoffs": [{"cut": -0.5}, {"cut": 0.5}],
    "pCutoff": [{"cut": 1.301}]
  },
  "layer": [
    {
      "data": {"name": "genes"},
      "mark": {
        "type": "point",
        "shape": "circle",
        "filled": true,
        "size": 100,
        "fillOpacity": 0.62,
        "strokeOpacity": 0.62,
        "strokeWidth": 1.2
      },
      "encoding": {
        "x": {
          "field": "fc",
          "type": "quantitative",
          "scale": {"domain": [-0.913, 8.22], "nice": false, "zero": false},
          "axis": {"title": "Log2 FC", "values": [0, 2, 4, 6, 8], "format": "d", "labelPadding": 6, "titlePadding": 10}
        },
        "y": {
          "field": "p",
          "type": "quantitative",
          "scale": {"domain": [-1.72, 144.85], "nice": false, "zero": false},
          "axis": {"title": "-Log10(adj P)", "values": [0, 20, 40, 60, 80, 100, 120, 140], "format": "d", "labelPadding": 8, "titlePadding": 6}
        },
        "color": {
          "field": "g",
          "type": "nominal",
          "scale": {
            "domain": ["Up (578)", "Down (0)", "NS (22)"],
            "range": ["#e74c3c", "#3498db", "#bdc3c7"]
          },
          "legend": {
            "title": null,
            "orient": "none",
            "legendX": 1185,
            "legendY": 11,
            "padding": 8,
            "rowPadding": 11,
            "symbolType": "circle",
            "symbolSize": 115,
            "symbolOpacity": 0.62,
            "symbolStrokeWidth": 0,
            "symbolOffset": 11,
            "labelOffset": 26,
            "labelFont": "DejaVu Sans",
            "labelFontSize": 20,
            "labelColor": "black",
            "fillColor": "rgba(255,255,255,0.8)",
            "strokeColor": "#cccccc",
            "cornerRadius": 4
          }
        }
      }
    },
    {
      "data": {"name": "fcCutoffs"},
      "mark": {"type": "rule", "color": "#808080", "opacity": 0.5, "strokeDash": [11, 5], "strokeWidth": 2.5},
      "encoding": {
        "x": {"field": "cut", "type": "quantitative", "title": "Log2 FC"}
      }
    },
    {
      "data": {"name": "pCutoff"},
      "mark": {"type": "rule", "color": "#808080", "opacity": 0.5, "strokeDash": [11, 5], "strokeWidth": 2.5},
      "encoding": {
        "y": {"field": "cut", "type": "quantitative", "title": "-Log10(adj P)"}
      }
    }
  ]
}
